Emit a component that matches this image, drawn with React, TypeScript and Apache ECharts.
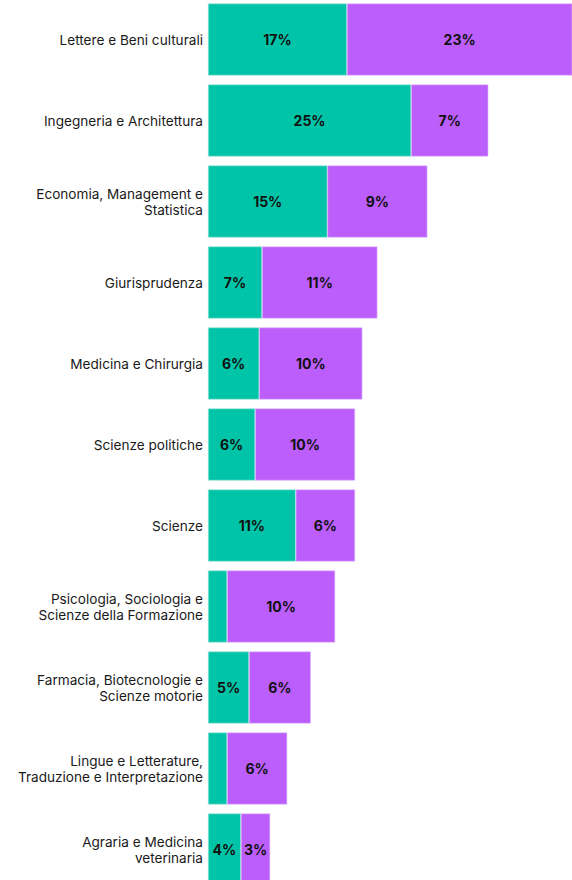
import React, { useEffect, useRef } from "react";
import * as echarts from "echarts";

const categories = [
  "Lettere e Beni culturali",
  "Ingegneria e Architettura",
  "Economia, Management e\nStatistica",
  "Giurisprudenza",
  "Medicina e Chirurgia",
  "Scienze politiche",
  "Scienze",
  "Psicologia, Sociologia e\nScienze della Formazione",
  "Farmacia, Biotecnologie e\nScienze motorie",
  "Lingue e Letterature,\nTraduzione e Interpretazione",
  "Agraria e Medicina\nveterinaria",
];

// bar lengths (common axis units)
const tealValues = [17.1, 25, 14.7, 6.65, 6.3, 5.8, 10.8, 2.35, 5.05, 2.35, 4.05];
const purpleValues = [29.2, 9.5, 12.3, 14.2, 12.7, 12.3, 7.3, 13.3, 7.6, 7.4, 3.6];

// printed labels
const tealLabels = ["17%", "25%", "15%", "7%", "6%", "6%", "11%", "", "5%", "", "4%"];
const purpleLabels = ["23%", "7%", "9%", "11%", "10%", "10%", "6%", "10%", "6%", "6%", "3%"];

const TEAL = "#00C4A8";
const PURPLE = "#BB5EFC";

export default function App() {
  const ref = useRef<HTMLDivElement>(null);
  useEffect(() => {
    document.body.style.margin = "0";
    const chart = echarts.init(ref.current!, null, { renderer: "svg" });
    const labelStyle = {
      show: true,
      position: "inside" as const,
      color: "#111111",
      fontFamily: "Inter",
      fontWeight: "bold" as const,
      fontSize: 14,
    };
    chart.setOption({
      animation: false,
      grid: { left: 208, right: 0, top: 0, bottom: 0, containLabel: false },
      xAxis: {
        type: "value",
        min: 0,
        max: 44.8,
        show: false,
      },
      yAxis: {
        type: "category",
        inverse: true,
        data: categories,
        axisLine: { show: false },
        axisTick: { show: false },
        axisLabel: {
          margin: 5,
          color: "#1a1a1a",
          fontFamily: "Inter",
          fontSize: 13.6,
          lineHeight: 16,
          align: "right",
        },
      },
      series: [
        {
          type: "bar",
          stack: "s",
          barWidth: 72,
          data: tealValues,
          itemStyle: { color: TEAL, borderColor: "#9fe6da", borderWidth: 0.6 },
          label: { ...labelStyle, formatter: (p: any) => tealLabels[p.dataIndex] },
        },
        {
          type: "bar",
          stack: "s",
          barWidth: 72,
          data: purpleValues,
          itemStyle: { color: PURPLE, borderColor: "#e0b8fd", borderWidth: 0.6 },
          label: { ...labelStyle, formatter: (p: any) => purpleLabels[p.dataIndex] },
        },
      ],
    });
    return () => chart.dispose();
  }, []);
  return (
    <div
      ref={ref}
      style={{ width: 572, height: 891, position: "absolute", left: 0, top: -1.5 }}
    />
  );
}
